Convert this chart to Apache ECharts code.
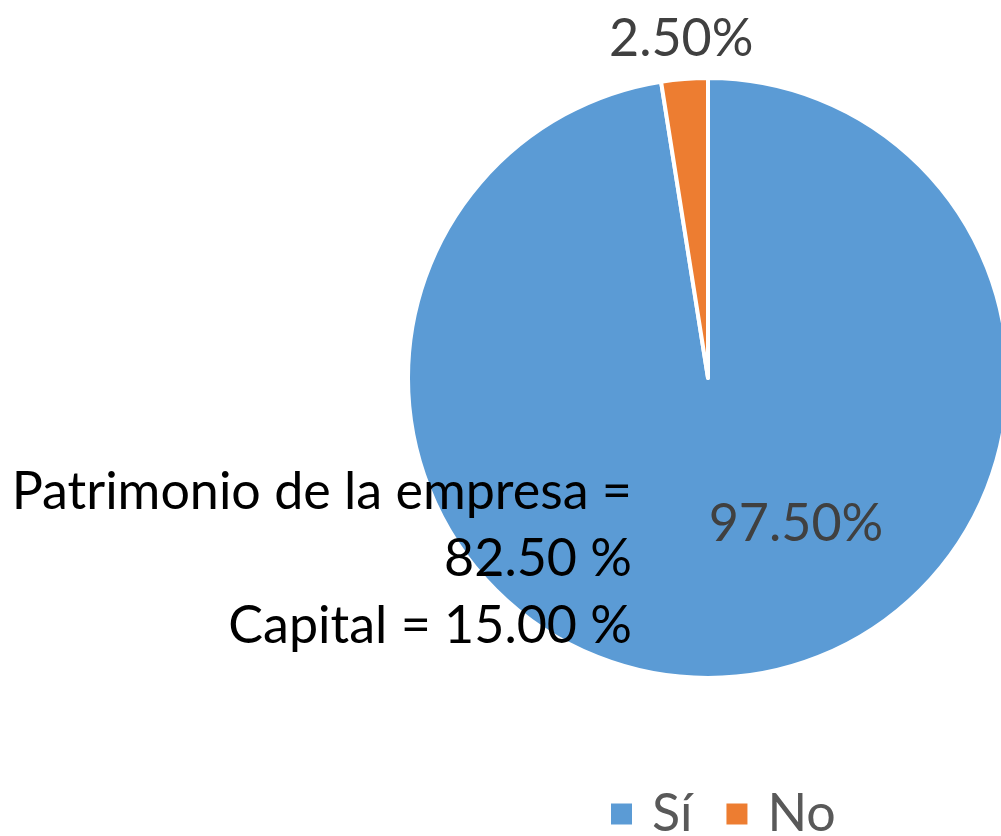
<!DOCTYPE html>
<html lang="es">
  <head>
    <meta charset="UTF-8" />
    <title>Pie</title>
    <script src="https://cdn.jsdelivr.net/npm/echarts@6/dist/echarts.min.js"></script>
    <style>
      body { margin: 0; background: #fff; }
    </style>
  </head>
  <body>
    <div id="main" style="width: 1001px; height: 836px"></div>
    <script type="text/javascript">
      // data
      const categories = ["Sí", "No"];
      const values = [97.5, 2.5];
      const colors = ["#5B9BD5", "#ED7D31"];
      const noteLines = ["Patrimonio de la empresa =", "82.50 %", "Capital = 15.00 %"];

      const font = "Lato, 'Open Sans', sans-serif";

      let myChart = echarts.init(document.getElementById("main"));

      let options = {
        color: colors,
        animation: false,
        legend: {
          data: categories,
          left: 609,
          top: 788,
          padding: 0,
          icon: "rect",
          itemWidth: 23,
          itemHeight: 23,
          itemGap: 32,
          textStyle: {
            fontFamily: font,
            fontSize: 52,
            color: "#595959",
            padding: [0, 0, 0, 14],
          },
        },
        series: [
          {
            type: "pie",
            center: [708, 378],
            radius: 300,
            startAngle: 90,
            itemStyle: { borderColor: "#fff", borderWidth: 4 },
            label: {
              fontFamily: font,
              fontSize: 52,
              color: "#404040",
              formatter: (p) => p.value.toFixed(2) + "%",
            },
            emphasis: { disabled: true },
            data: categories.map((c, i) => ({
              name: c,
              value: values[i],
              label: i === 0
                ? { position: "inside", offset: [76, -6] }
                : { position: "outside", offset: [74, -40] },
              labelLine: { show: false, length: 0, length2: 0 },
            })),
          },
        ],
        graphic: noteLines.map((t, i) => ({
          type: "text",
          z: 100,
          x: 632,
          y: 466 + i * 67,
          style: {
            text: t,
            font: "52px " + font,
            fill: "#000",
            align: "right",
            verticalAlign: "top",
          },
        })),
      };

      myChart.setOption(options);
    </script>
  </body>
</html>
